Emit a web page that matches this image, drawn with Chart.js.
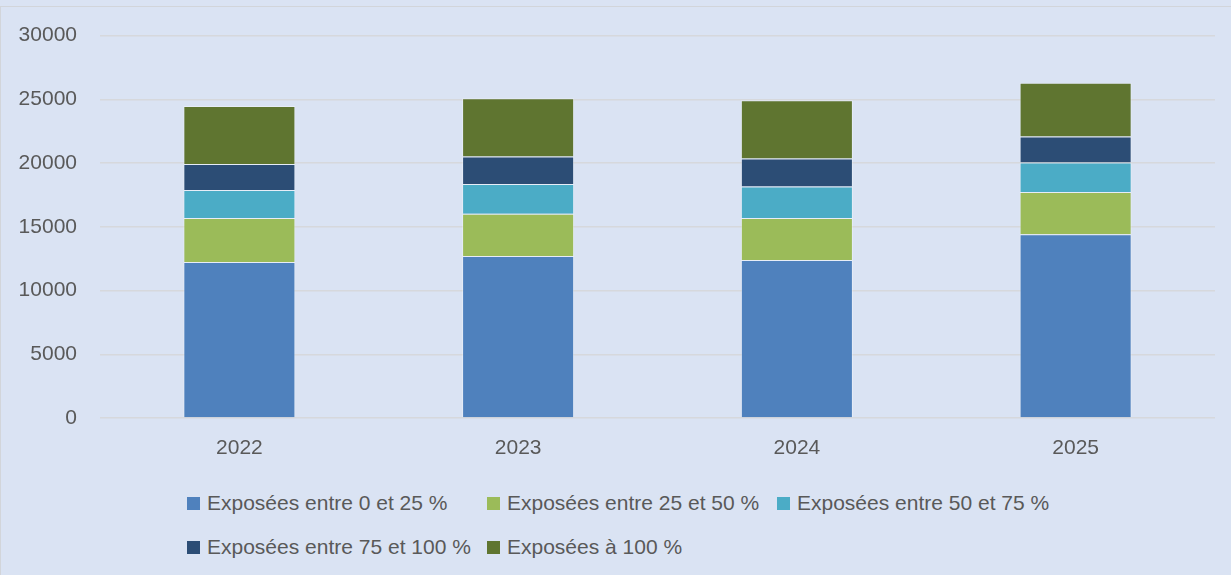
<!DOCTYPE html>
<html>
<head>
<meta charset="utf-8">
<script src="https://cdn.jsdelivr.net/npm/chart.js@4"></script>
<style>
    body { margin: 0; background: #dae3f3; }
    #cadre {
        position: relative;
        width: 1231px;
        height: 575px;
        background: #dae3f3;
        overflow: hidden;
    }
    #bord {
        position: absolute;
        left: 0; top: 6px; right: 0; bottom: 0;
        border-top: 1px solid #d2d5da;
        border-left: 1px solid #d2d5da;
    }
    #zone { position: absolute; left: 0; top: 0; width: 1231px; height: 470px; }
    #legende {
        position: absolute;
        left: 187px;
        top: 491px;
        display: grid;
        grid-template-columns: 300px 290px 290px;
        row-gap: 20px;
        font-family: "Liberation Sans", Arial, sans-serif;
        font-size: 21px;
        color: #595959;
    }
    .item { display: flex; align-items: center; height: 24px; white-space: nowrap; }
    .carre { width: 13px; height: 13px; margin-right: 7px; }
</style>
</head>
<body>
<div id="cadre">
    <div id="bord"></div>
    <div id="zone"><canvas id="grafico" width="1231" height="470"></canvas></div>
    <div id="legende"></div>
</div>
<script>
// données
var annees = ['2022', '2023', '2024', '2025'];
var expo0a25 = [12230, 12700, 12390, 14420];
var expo25a50 = [3470, 3320, 3310, 3310];
var expo50a75 = [2190, 2340, 2470, 2320];
var expo75a100 = [2030, 2160, 2190, 2030];
var expo100 = [4560, 4560, 4560, 4220];
var libelles = [
    'Exposées entre 0 et 25 %',
    'Exposées entre 25 et 50 %',
    'Exposées entre 50 et 75 %',
    'Exposées entre 75 et 100 %',
    'Exposées à 100 %'
];
var couleurs = ['#4f81bd', '#9bbb59', '#4bacc6', '#2c4d75', '#5f7530'];
var valeurs = [expo0a25, expo25a50, expo50a75, expo75a100, expo100];

function serie(i) {
    return {
        label: libelles[i],
        data: valeurs[i],
        backgroundColor: couleurs[i],
        borderColor: 'rgba(255,255,255,0.35)',
        borderWidth: 1,
        barPercentage: 0.402,
        categoryPercentage: 1
    };
}

var series = [];
for (var i = 0; i < valeurs.length; i++) {
    series.push(serie(i));
}

var police = { family: '"Liberation Sans", Arial, sans-serif', size: 21 };

var ctx = document.getElementById('grafico').getContext('2d');
var graphique = new Chart(ctx, {
    type: 'bar',
    data: { labels: annees, datasets: series },
    options: {
        responsive: false,
        maintainAspectRatio: false,
        animation: false,
        devicePixelRatio: 1,
        layout: { padding: { left: 18, right: 16, top: 34, bottom: 9 } },
        plugins: {
            legend: { display: false },
            tooltip: { enabled: false }
        },
        scales: {
            x: {
                stacked: true,
                grid: { display: false },
                border: { display: false },
                ticks: { color: '#595959', font: police, padding: 10 },
                afterFit: function (s) { s.height = 43; }
            },
            y: {
                stacked: true,
                min: 0,
                max: 30000,
                grid: { color: '#d6d8dc', lineWidth: 1.5, drawTicks: false },
                border: { display: false },
                ticks: {
                    stepSize: 5000,
                    color: '#595959',
                    font: police,
                    padding: 23,
                    callback: function (v) { return String(v); }
                },
                afterFit: function (s) { s.width = 82; }
            }
        }
    }
});

// légende faite à la main (grille à 3 colonnes comme l'original)
var legende = document.getElementById('legende');
for (var j = 0; j < libelles.length; j++) {
    var item = document.createElement('div');
    item.className = 'item';
    item.innerHTML = '<span class="carre" style="background:' + couleurs[j] + '"></span>' + libelles[j];
    legende.appendChild(item);
}
</script>
</body>
</html>
